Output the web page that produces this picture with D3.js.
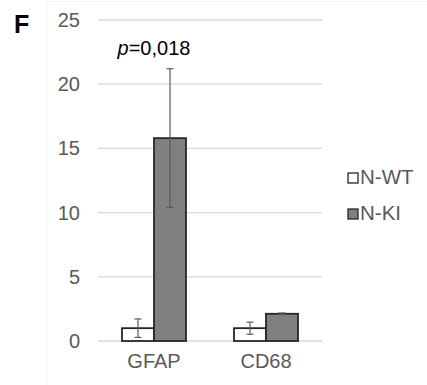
<!DOCTYPE html>
<html>
<head>
<meta charset="utf-8">
<script src="https://cdn.jsdelivr.net/npm/d3@7"></script>
<style>
  body { margin: 0; background: #fff; }
  svg { font-family: 'Liberation Sans', Arial, sans-serif; }
</style>
</head>
<body>
<div id="chart"></div>
<script>
/* Data */
const categories = ['GFAP', 'CD68'];
const groups = ['N-WT', 'N-KI'];
const wtValues = [1.0, 1.0];
const wtErrors = [0.72, 0.47];
const kiValues = [15.8, 2.12];
const kiErrors = [5.4, 0.06];
const yTicks = [0, 5, 10, 15, 20, 25];
const pLabel = '=0,018';

const width = 427;
const height = 385;
const margin = { top: 20, right: 105, bottom: 44, left: 98 };

const colors = { 'N-WT': '#ffffff', 'N-KI': '#808080' };

const svg = d3.select('#chart')
  .append('svg')
  .attr('width', width)
  .attr('height', height);

// faint frame
svg.append('path')
  .attr('d', `M47,${height}V1.5H${width}`)
  .attr('fill', 'none')
  .attr('stroke', '#f4f4f4');

svg.append('text')
  .attr('x', 14)
  .attr('y', 33)
  .attr('font-size', 25)
  .attr('font-weight', 'bold')
  .attr('fill', '#000')
  .text('F');

const x = d3.scaleBand()
  .domain(categories)
  .range([margin.left, 322])
  .paddingInner(0.4286)
  .paddingOuter(0.2143);

const xSub = d3.scaleBand()
  .domain(groups)
  .range([0, x.bandwidth()]);

const y = d3.scaleLinear()
  .domain([0, 25])
  .range([341, 20]);

// grid
svg.append('g')
  .selectAll('line')
  .data(yTicks)
  .join('line')
  .attr('x1', margin.left)
  .attr('x2', 322)
  .attr('y1', d => y(d))
  .attr('y2', d => y(d))
  .attr('stroke', '#d9d9d9')
  .attr('stroke-width', 1.3);

// y axis labels
const yAxis = d3.axisLeft(y).tickValues(yTicks).tickSize(0).tickPadding(0);
svg.append('g')
  .attr('transform', 'translate(80,0)')
  .call(yAxis)
  .call(g => g.select('.domain').remove())
  .selectAll('text')
  .attr('font-size', 20)
  .attr('font-family', 'Liberation Sans, Arial, sans-serif')
  .attr('fill', '#595959');

// x axis labels
const xAxis = d3.axisBottom(x).tickSize(0).tickPadding(0);
svg.append('g')
  .attr('transform', 'translate(0,354)')
  .call(xAxis)
  .call(g => g.select('.domain').remove())
  .selectAll('text')
  .attr('font-size', 20)
  .attr('font-family', 'Liberation Sans, Arial, sans-serif')
  .attr('fill', '#595959');

const rows = categories.flatMap((c, i) => [
  { cat: c, group: 'N-WT', value: wtValues[i], err: wtErrors[i] },
  { cat: c, group: 'N-KI', value: kiValues[i], err: kiErrors[i] }
]);

// bars
svg.append('g')
  .selectAll('rect')
  .data(rows)
  .join('rect')
  .attr('x', d => x(d.cat) + xSub(d.group))
  .attr('y', d => y(d.value))
  .attr('width', xSub.bandwidth())
  .attr('height', d => y(0) - y(d.value))
  .attr('fill', d => colors[d.group])
  .attr('stroke', '#262626')
  .attr('stroke-width', 1.8);

// error bars
const errG = svg.append('g')
  .attr('stroke', '#595959')
  .attr('stroke-width', 1.2);
const capW = 3.5;
rows.forEach(d => {
  const cx = x(d.cat) + xSub(d.group) + xSub.bandwidth() / 2;
  const y1 = y(d.value + d.err);
  const y2 = y(d.value - d.err);
  errG.append('line').attr('x1', cx).attr('x2', cx).attr('y1', y1).attr('y2', y2);
  errG.append('line').attr('x1', cx - capW).attr('x2', cx + capW).attr('y1', y1).attr('y2', y1);
  errG.append('line').attr('x1', cx - capW).attr('x2', cx + capW).attr('y1', y2).attr('y2', y2);
});

// p-value
const pText = svg.append('text')
  .attr('x', x('GFAP') + x.bandwidth() / 2)
  .attr('y', 55)
  .attr('text-anchor', 'middle')
  .attr('font-size', 20)
  .attr('fill', '#000');
pText.append('tspan').attr('font-style', 'italic').text('p');
pText.append('tspan').text(pLabel);

// legend
const legend = svg.append('g').attr('transform', 'translate(348,173)');
groups.forEach((gname, i) => {
  const item = legend.append('g').attr('transform', `translate(0,${i * 36})`);
  item.append('rect')
    .attr('width', 10)
    .attr('height', 10)
    .attr('fill', colors[gname])
    .attr('stroke', '#262626')
    .attr('stroke-width', 1.3);
  item.append('text')
    .attr('x', 12)
    .attr('y', 11)
    .attr('font-size', 20.5)
    .attr('fill', '#595959')
    .text(gname);
});
</script>
</body>
</html>
